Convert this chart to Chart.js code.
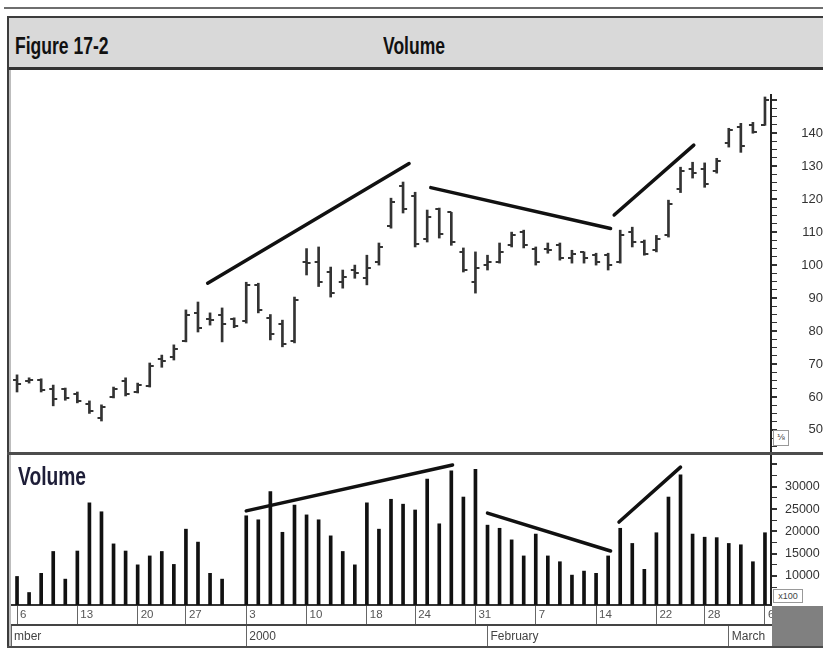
<!DOCTYPE html>
<html>
<head>
<meta charset="utf-8">
<script src="https://cdn.jsdelivr.net/npm/chart.js@4.4.1/dist/chart.umd.min.js"></script>
<style>
  html, body { margin: 0; padding: 0; background: #fff; }
  #page { position: relative; width: 823px; height: 656px; overflow: hidden; background: #fff;
          font-family: 'Liberation Sans', Arial, sans-serif; }
  .abs { position: absolute; }
  #topRule { left: 4px; top: 7px; width: 819px; height: 2px; background: #6e6e6e; }
  #titleBar { left: 7px; top: 16px; width: 830px; height: 49px; background: #d9d9d9;
              border-top: 2px solid #3c3c3c; border-bottom: 3px solid #333; border-left: 2px solid #3c3c3c; }
  .title { font-family: 'Liberation Sans Narrow', 'Liberation Sans', Arial, sans-serif; font-weight: bold;
           font-size: 24px; line-height: 24px; color: #111; white-space: nowrap;
           transform: scaleX(0.73); transform-origin: left top; }
  #leftDark { left: 7px; top: 16px; width: 2px; height: 632px; background: #3c3c3c; }
  #leftLight { left: 9px; top: 70px; width: 2px; height: 578px; background: #bdbdbd; }
  #separator { left: 7px; top: 452px; width: 816px; height: 3px; background: #4d4d4d; }
  #bottomRule { left: 7px; top: 646px; width: 816px; height: 2px; background: #4a4a4a; }
  #grayBox { left: 772px; top: 606px; width: 51px; height: 40px; background: #808080; }
  #volLabel { left: 18px; top: 463px; font-family: 'Liberation Sans Narrow', 'Liberation Sans', Arial, sans-serif;
              font-weight: bold; font-size: 26px; line-height: 26px; color: #1e1e38; white-space: nowrap;
              transform: scaleX(0.74); transform-origin: left top; }
  .tiny { border: 1px solid #999; background: #fff; color: #444; font-size: 9px; line-height: 12px;
          text-align: center; }
  canvas { position: absolute; }
</style>
</head>
<body>
<div id="page">
  <div class="abs" id="topRule"></div>
  <div class="abs" id="titleBar"></div>
  <div class="abs title" style="left:15px; top:34px;">Figure 17-2</div>
  <div class="abs title" style="left:383px; top:34px;">Volume</div>

  <canvas id="priceChart" width="812" height="416" style="left:11px; top:65px;"></canvas>
  <canvas id="volumeChart" width="812" height="211" style="left:11px; top:436px;"></canvas>

  <div class="abs" id="leftDark"></div>
  <div class="abs" id="leftLight"></div>
  <div class="abs" id="separator"></div>
  <div class="abs" id="bottomRule"></div>
  <div class="abs" id="grayBox"></div>
  <div class="abs" id="volLabel">Volume</div>
  <div class="abs tiny" style="left:773px; top:430px; width:14px; height:14px;">⅛</div>
  <div class="abs tiny" style="left:773px; top:589px; width:28px; height:12px;">x100</div>
</div>

<script>
// trading sessions, Dec 6 1999 .. Mar 6 2000 (one slot per session)
const sessions = [
    'Dec 6', 'Dec 7', 'Dec 8', 'Dec 9', 'Dec 10', 'Dec 13', 'Dec 14', 'Dec 15', 'Dec 16', 'Dec 17',
    'Dec 20', 'Dec 21', 'Dec 22', 'Dec 23', 'Dec 27', 'Dec 28', 'Dec 29', 'Dec 30', 'Dec 31',
    'Jan 3', 'Jan 4', 'Jan 5', 'Jan 6', 'Jan 7', 'Jan 10', 'Jan 11', 'Jan 12', 'Jan 13', 'Jan 14',
    'Jan 18', 'Jan 19', 'Jan 20', 'Jan 21', 'Jan 24', 'Jan 25', 'Jan 26', 'Jan 27', 'Jan 28', 'Jan 31',
    'Feb 1', 'Feb 2', 'Feb 3', 'Feb 4', 'Feb 7', 'Feb 8', 'Feb 9', 'Feb 10', 'Feb 11', 'Feb 14',
    'Feb 15', 'Feb 16', 'Feb 17', 'Feb 18', 'Feb 22', 'Feb 23', 'Feb 24', 'Feb 25', 'Feb 28', 'Feb 29',
    'Mar 1', 'Mar 2', 'Mar 3', 'Mar 6'
];

const openP = [65, 64.8, 65.2, 62.5, 62.3, 61, 58, 53.5, 60, 64.8,
    61.5, 63.3, 71.5, 72, 77, 85.5, 83.5, 85, 83.5, 83,
    94, 84, 82, 77, 101, 101, 98, 95, 98.5, 96,
    101, 112, 124, 121, 108, 117, 116, 104, 95, 100,
    101, 106, 110, 105, 105, 106, 102, 104, 103, 103,
    101, 110, 107, 104.5, 109, 123, 129, 129, 128.5, 137,
    142, 142.5, 142.5];
const highP = [66.7, 65.8, 65.5, 63.6, 62.7, 61.5, 58.8, 57.6, 63, 65.8,
    64.2, 70.3, 72.7, 75.8, 86.4, 88.8, 85.5, 87, 84, 94.8,
    94.5, 85, 83.3, 90.3, 105, 105.5, 99.4, 98.5, 100, 103,
    106.7, 120.3, 125.2, 122.1, 116.7, 117.3, 116, 105.2, 104, 103,
    106.7, 110, 110.6, 105.5, 106.7, 106.7, 104.5, 104, 103.6, 103.6,
    110.6, 111.5, 107.6, 109, 119.7, 129.7, 131.2, 131, 132.4, 141.5,
    143, 143.3, 151];
const lowP = [61.5, 64.2, 61.5, 57.3, 59, 58.2, 55, 52.7, 59.7, 60.3,
    61.2, 63, 69, 71.2, 76.7, 79.7, 81.8, 76.7, 81, 82.4,
    85.5, 77.3, 75.2, 76.4, 97, 93.5, 90.3, 93, 96, 94,
    100, 111.2, 115.8, 105.5, 107, 108.2, 106, 97.9, 91.5, 98.5,
    100.6, 105.5, 105.2, 100, 103.6, 101.5, 100.6, 100.6, 100, 98.5,
    100.6, 105.5, 103, 104, 108.5, 122, 126.4, 123.6, 127.9, 135.8,
    134.2, 140, 142.4];
const closeP = [64, 65, 62, 59.5, 59.7, 58.8, 55.8, 57, 62.5, 61,
    63.5, 69.5, 71, 74.5, 85, 81, 83.3, 82, 81.5, 94,
    86.5, 79, 76, 89.5, 100.5, 95, 91.5, 96.5, 97.5, 99,
    105.5, 119, 117, 106.5, 114.5, 109.5, 107, 98.5, 99, 101,
    104, 109, 106, 101, 104.5, 102, 103.5, 102, 101, 100,
    109, 107, 103.5, 108, 118.5, 128.5, 128, 124.5, 131.5, 141,
    136, 140.5, 150];

// volume in shares x100 (no bar printed for Dec 31)
const volume = [9900, 6300, 10600, 15500, 9300, 15600, 26400, 24400, 17200, 15600,
    12500, 14500, 15500, 12600, 20500, 17600, 10600, 9300, null, 23500,
    22600, 28900, 19800, 25900, 23700, 22600, 19000, 15500, 12500, 26400,
    20500, 27200, 26100, 24800, 31700, 21700, 33600, 27700, 33900, 21400,
    20700, 18100, 14500, 19400, 14500, 13200, 10200, 11100, 10600, 14500,
    20700, 17300, 11500, 19700, 27700, 32700, 19400, 18700, 18600, 17300,
    17000, 13200, 19700];

// hand-drawn trend lines: [startSession, startValue, endSession, endValue]
const priceTrends = [[15.8, 94.5, 32.5, 130.8], [34.3, 123.5, 49.2, 111.1], [49.5, 115.2, 56.1, 136.4]];
const volumeTrends = [[19.0, 24600, 36.1, 34900], [39.0, 24100, 49.2, 15600], [49.9, 22100, 55.0, 34400]];

// date axis
const dayTickIdx = [0, 5, 10, 14, 19, 24, 29, 33, 38, 43, 48, 53, 57, 62];
const dayTickLabels = ['6', '13', '20', '27', '3', '10', '18', '24', '31', '7', '14', '22', '28', '6'];
const monthTickIdx = [-0.5, 19, 39, 59];
const monthTickLabels = ['mber', '2000', 'February', 'March'];

// value axes
const priceLabels = [140, 130, 120, 110, 100, 90, 80, 70, 60, 50];
const volumeTicks = [7500, 10000, 12500, 15000, 17500, 20000, 22500, 25000, 27500, 30000, 32500, 35000];
const volumeLabels = [30000, 25000, 20000, 15000, 10000];

Chart.defaults.font.family = "'Liberation Sans', Arial, sans-serif";
Chart.defaults.animation = false;

const INK = '#333';
const xMin = -0.5, xMax = sessions.length - 0.5;

function tickImage(side) {
    const c = document.createElement('canvas');
    c.width = 10;
    c.height = 2;
    const g = c.getContext('2d');
    g.fillStyle = INK;
    g.fillRect(side === 'left' ? 1 : 5, 0, 4, 2);
    return c;
}

function trendSets(list, axisId) {
    return list.map(t => ({
        type: 'line',
        data: [{ x: t[0], y: t[1] }, { x: t[2], y: t[3] }],
        yAxisID: axisId,
        borderColor: '#111',
        borderWidth: 3.5,
        pointRadius: 0,
        borderCapStyle: 'round',
    }));
}

const idx = sessions.map((s, i) => i);

new Chart(document.getElementById('priceChart'), {
    type: 'bar',
    data: {
        datasets: [
            {
                data: idx.map(i => ({ x: i, y: [lowP[i], highP[i]] })),
                backgroundColor: INK,
                barThickness: 2,
            },
            {
                type: 'line',
                data: idx.map(i => ({ x: i, y: openP[i] })),
                showLine: false,
                pointStyle: tickImage('left'),
                pointRadius: 5,
            },
            {
                type: 'line',
                data: idx.map(i => ({ x: i, y: closeP[i] })),
                showLine: false,
                pointStyle: tickImage('right'),
                pointRadius: 5,
            },
            ...trendSets(priceTrends, 'y'),
        ]
    },
    options: {
        responsive: false,
        layout: { autoPadding: false, padding: { top: 30, bottom: 30, left: 0, right: 0 } },
        plugins: { legend: { display: false }, tooltip: { enabled: false } },
        scales: {
            x: { type: 'linear', display: false, offset: false, grid: { offset: false }, min: xMin, max: xMax },
            y: {
                position: 'right',
                min: 43.6,
                max: 151.6,
                afterFit: s => { s.width = 52; },
                border: { display: true, color: '#222', width: 2 },
                grid: {
                    drawOnChartArea: false,
                    tickLength: 6,
                    color: '#333',
                    lineWidth: c => (c.tick && c.tick.value % 10 === 0) ? 2 : 1,
                },
                ticks: {
                    stepSize: 2.5,
                    includeBounds: false,
                    autoSkip: false,
                    crossAlign: 'far',
                    padding: 17,
                    color: '#333',
                    font: { size: 13 },
                    callback: v => priceLabels.includes(v) ? String(v) : '',
                }
            }
        }
    }
});

new Chart(document.getElementById('volumeChart'), {
    type: 'bar',
    data: {
        datasets: [
            {
                data: idx.filter(i => volume[i] !== null).map(i => ({ x: i, y: volume[i] })),
                backgroundColor: '#111',
                barThickness: 3,
            },
            ...trendSets(volumeTrends, 'y'),
        ]
    },
    options: {
        responsive: false,
        layout: { autoPadding: false, padding: { top: 20, bottom: 0, left: 0, right: 0 } },
        plugins: { legend: { display: false }, tooltip: { enabled: false } },
        scales: {
            x: {
                type: 'linear',
                position: 'bottom',
                weight: 1,
                offset: false,
                min: xMin,
                max: xMax,
                afterBuildTicks: s => { s.ticks = dayTickIdx.map(v => ({ value: v })); },
                afterFit: s => { s.height = 20; },
                border: { display: true, color: '#333', width: 2 },
                grid: { offset: false, drawOnChartArea: false, tickLength: 20, color: '#666', lineWidth: 1 },
                ticks: {
                    autoSkip: false,
                    maxRotation: 0,
                    align: 'start',
                    labelOffset: 3,
                    padding: -17,
                    color: '#555',
                    font: { size: 11.5 },
                    callback: (v, i) => dayTickLabels[i],
                }
            },
            month: {
                type: 'linear',
                axis: 'x',
                position: 'bottom',
                weight: 2,
                offset: false,
                min: xMin,
                max: xMax,
                afterBuildTicks: s => { s.ticks = monthTickIdx.map(v => ({ value: v })); },
                afterFit: s => { s.height = 22; },
                border: { display: true, color: '#444', width: 2 },
                grid: { offset: false, drawOnChartArea: false, tickLength: 22, color: '#666', lineWidth: 1 },
                ticks: {
                    autoSkip: false,
                    maxRotation: 0,
                    align: 'start',
                    labelOffset: 3,
                    padding: -18,
                    color: '#444',
                    font: { size: 12 },
                    callback: (v, i) => monthTickLabels[i],
                }
            },
            y: {
                position: 'right',
                min: 3500,
                max: 36900,
                afterBuildTicks: s => { s.ticks = volumeTicks.map(v => ({ value: v })); },
                afterFit: s => { s.width = 52; },
                border: { display: true, color: '#222', width: 2 },
                grid: {
                    drawOnChartArea: false,
                    tickLength: 6,
                    color: '#333',
                    lineWidth: c => (c.tick && c.tick.value % 5000 === 0) ? 2 : 1,
                },
                ticks: {
                    autoSkip: false,
                    padding: 8,
                    color: '#333',
                    font: { size: 12.5 },
                    callback: (v, i) => volumeLabels.includes(volumeTicks[i]) ? String(volumeTicks[i]) : '',
                }
            }
        }
    }
});
</script>
</body>
</html>
